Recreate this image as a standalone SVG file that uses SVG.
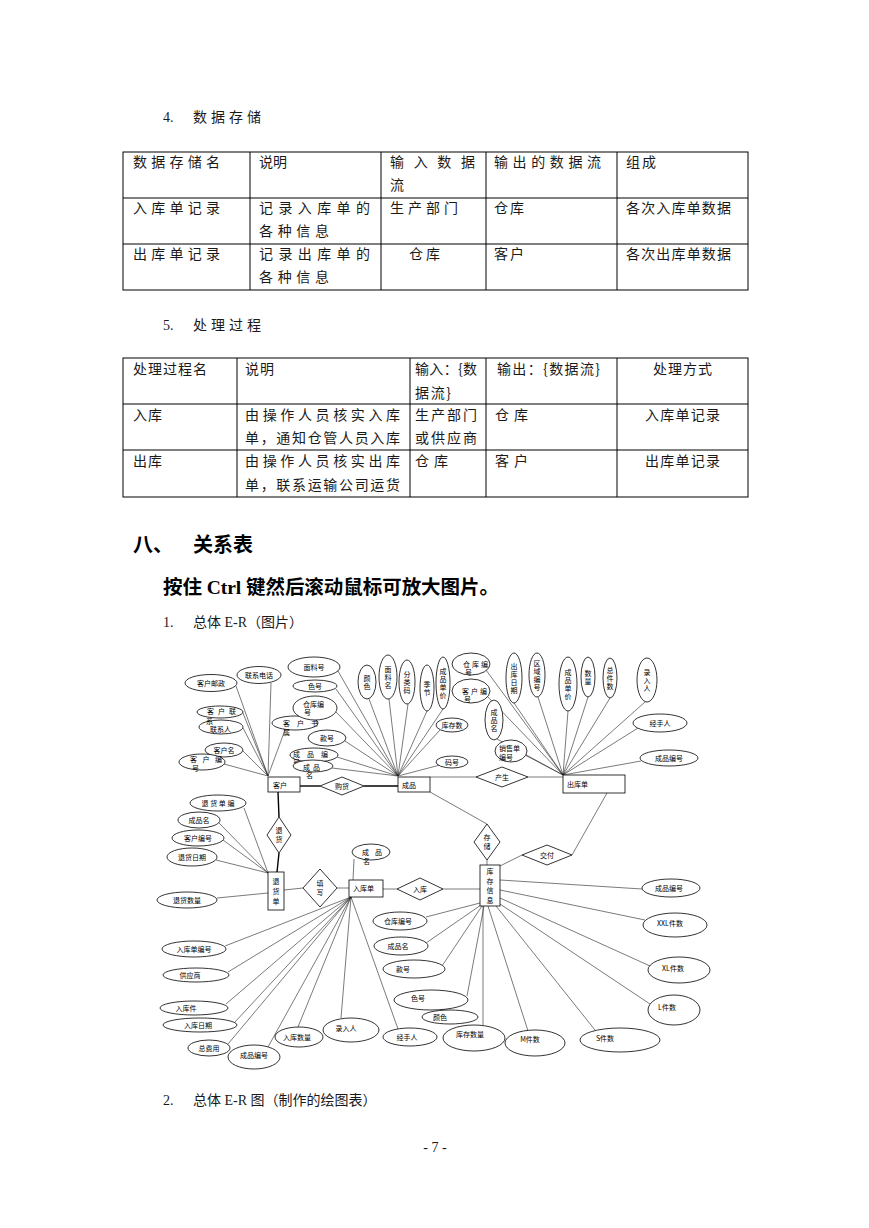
<svg xmlns="http://www.w3.org/2000/svg" width="869" height="1228" viewBox="0 0 869 1228">
<style>
.t{font-family:"Noto Sans CJK SC","Noto Sans",sans-serif;font-size:14px;fill:#1a1a1a}
.l{font-family:"Liberation Serif","Noto Sans CJK SC",serif;font-size:14px;fill:#1a1a1a}
.h{font-family:"Noto Sans CJK SC",sans-serif;font-weight:bold;fill:#000}
.grid{fill:none;stroke:#000;stroke-width:1}
.er text{font-family:"Noto Sans CJK SC",sans-serif;font-size:7px;fill:#000}
.er .c{text-anchor:middle}
.er ellipse,.er rect,.er polygon{fill:#fff;stroke:#000;stroke-width:0.8}
.conn line{stroke:#222;stroke-width:0.6}
.conn line.b{stroke:#000;stroke-width:1.4}
</style>
<rect width="869" height="1228" fill="#fff"/>

<g id="sec4">
<text class="l" x="163" y="122">4.</text>
<text class="t" x="193" y="122" textLength="68">数据存储</text>
</g>
<g id="table1">
<rect class="grid" x="123" y="152" width="625" height="138"/>
<path class="grid" d="M123 198H748M123 244H748M250 152V290M381 152V290M486 152V290M617 152V290"/>
<text class="t" x="133" y="167" textLength="87">数据存储名</text>
<text class="t" x="259" y="167" textLength="28">说明</text>
<text class="t" x="390" y="167" textLength="85">输入数据</text>
<text class="t" x="390" y="190">流</text>
<text class="t" x="494" y="167" textLength="107">输出的数据流</text>
<text class="t" x="626" y="167" textLength="30">组成</text>
<text class="t" x="133" y="213" textLength="87">入库单记录</text>
<text class="t" x="259" y="213" textLength="111">记录入库单的</text>
<text class="t" x="259" y="236" textLength="70">各种信息</text>
<text class="t" x="390" y="213" textLength="68">生产部门</text>
<text class="t" x="494" y="213" textLength="30">仓库</text>
<text class="t" x="626" y="213" textLength="105">各次入库单数据</text>
<text class="t" x="133" y="259" textLength="87">出库单记录</text>
<text class="t" x="259" y="259" textLength="111">记录出库单的</text>
<text class="t" x="259" y="282" textLength="70">各种信息</text>
<text class="t" x="409" y="259" textLength="31">仓库</text>
<text class="t" x="494" y="259" textLength="30">客户</text>
<text class="t" x="626" y="259" textLength="105">各次出库单数据</text>
</g>

<g id="sec5">
<text class="l" x="163" y="330">5.</text>
<text class="t" x="193" y="330" textLength="68">处理过程</text>
</g>
<g id="table2">
<rect class="grid" x="123" y="358" width="625" height="139"/>
<path class="grid" d="M123 404H748M123 450H748M237 358V497M410 358V497M486 358V497M617 358V497"/>
<text class="t" x="133" y="374" textLength="74">处理过程名</text>
<text class="t" x="245" y="374" textLength="29">说明</text>
<text class="t" x="415" y="374" textLength="62">输入：{数</text>
<text class="t" x="415" y="398" textLength="36">据流}</text>
<text class="t" x="497" y="374" textLength="103">输出：{数据流}</text>
<text class="t" x="653" y="374" textLength="59">处理方式</text>
<text class="t" x="133" y="420" textLength="29">入库</text>
<text class="t" x="245" y="420" textLength="155">由操作人员核实入库</text>
<text class="t" x="245" y="443" textLength="155">单，通知仓管人员入库</text>
<text class="t" x="415" y="420" textLength="62">生产部门</text>
<text class="t" x="415" y="443" textLength="62">或供应商</text>
<text class="t" x="495" y="420" textLength="33">仓库</text>
<text class="t" x="645" y="420" textLength="75">入库单记录</text>
<text class="t" x="133" y="466" textLength="29">出库</text>
<text class="t" x="245" y="466" textLength="155">由操作人员核实出库</text>
<text class="t" x="245" y="490" textLength="155">单，联系运输公司运货</text>
<text class="t" x="415" y="466" textLength="33">仓库</text>
<text class="t" x="495" y="466" textLength="33">客户</text>
<text class="t" x="645" y="466" textLength="75">出库单记录</text>
</g>

<g id="heading8">
<text class="h" x="133" y="552" font-size="20">八、</text>
<text class="h" x="193" y="552" font-size="20" textLength="60">关系表</text>
</g>
<g id="hint">
<text class="h" x="163" y="594" font-size="19.5" textLength="336">按住<tspan font-family="Liberation Serif" font-weight="bold"> Ctrl </tspan>键然后滚动鼠标可放大图片。</text>
</g>
<g id="cap1">
<text class="l" x="163" y="627">1.</text>
<text class="t" x="193" y="627">总体<tspan font-family="Liberation Serif"> E-R</tspan>（图片）</text>
</g>

<g class="er" id="er">
<g class="conn" id="connectors">
<line x1="268" y1="776" x2="236" y2="686"/>
<line x1="268" y1="776" x2="271" y2="683"/>
<line x1="268" y1="776" x2="243" y2="713"/>
<line x1="268" y1="776" x2="243" y2="728"/>
<line x1="268" y1="776" x2="285" y2="730"/>
<line x1="268" y1="776" x2="243" y2="751"/>
<line x1="268" y1="776" x2="224" y2="764"/>
<line x1="398" y1="776" x2="338" y2="671"/>
<line x1="398" y1="776" x2="336" y2="689"/>
<line x1="398" y1="776" x2="336" y2="712"/>
<line x1="398" y1="776" x2="345" y2="741"/>
<line x1="398" y1="776" x2="337" y2="757"/>
<line x1="398" y1="776" x2="332" y2="768"/>
<line x1="398" y1="776" x2="369" y2="699"/>
<line x1="398" y1="776" x2="389" y2="699"/>
<line x1="398" y1="776" x2="408" y2="704"/>
<line x1="398" y1="776" x2="427" y2="711"/>
<line x1="398" y1="776" x2="443" y2="709"/>
<line x1="398" y1="776" x2="440" y2="730"/>
<line x1="398" y1="776" x2="440" y2="765"/>
<line x1="563" y1="775" x2="486" y2="670"/>
<line x1="563" y1="775" x2="488" y2="697"/>
<line x1="563" y1="775" x2="514" y2="703"/>
<line x1="563" y1="775" x2="497" y2="739"/>
<line x1="563" y1="775" x2="525" y2="755"/>
<line x1="563" y1="775" x2="538" y2="697"/>
<line x1="563" y1="775" x2="568" y2="711"/>
<line x1="563" y1="775" x2="588" y2="697"/>
<line x1="563" y1="775" x2="610" y2="698"/>
<line x1="563" y1="775" x2="645" y2="702"/>
<line x1="563" y1="775" x2="638" y2="728"/>
<line x1="563" y1="775" x2="641" y2="761"/>
<line class="b" x1="300" y1="786" x2="320" y2="786"/>
<line class="b" x1="364" y1="786" x2="398" y2="786"/>
<line x1="430" y1="777" x2="476" y2="777"/>
<line x1="528" y1="777" x2="563" y2="777"/>
<line class="b" x1="278" y1="792" x2="279" y2="817"/>
<line class="b" x1="279" y1="853" x2="277" y2="872"/>
<line x1="284" y1="890" x2="303" y2="888"/>
<line x1="337" y1="888" x2="349" y2="888"/>
<line x1="383" y1="889" x2="397" y2="889"/>
<line x1="443" y1="889" x2="480" y2="889"/>
<line x1="430" y1="792" x2="487" y2="824"/>
<line x1="487" y1="860" x2="487" y2="865"/>
<line x1="607" y1="793" x2="572" y2="855"/>
<line x1="522" y1="855" x2="500" y2="866"/>
<line x1="268" y1="873" x2="244" y2="808"/>
<line x1="268" y1="873" x2="219" y2="823"/>
<line x1="268" y1="873" x2="223" y2="840"/>
<line x1="268" y1="873" x2="216" y2="860"/>
<line x1="268" y1="893" x2="217" y2="898"/>
<line x1="353" y1="880" x2="354" y2="859"/>
<line x1="351" y1="897" x2="225" y2="946"/>
<line x1="351" y1="897" x2="228" y2="972"/>
<line x1="351" y1="897" x2="226" y2="1004"/>
<line x1="351" y1="897" x2="235" y2="1022"/>
<line x1="351" y1="897" x2="228" y2="1044"/>
<line x1="351" y1="897" x2="268" y2="1047"/>
<line x1="351" y1="897" x2="298" y2="1027"/>
<line x1="351" y1="897" x2="341" y2="1018"/>
<line x1="351" y1="897" x2="398" y2="1029"/>
<line x1="480" y1="903" x2="426" y2="917"/>
<line x1="481" y1="905" x2="426" y2="943"/>
<line x1="482" y1="906" x2="442" y2="966"/>
<line x1="484" y1="906" x2="467" y2="996"/>
<line x1="483" y1="906" x2="483" y2="1025"/>
<line x1="488" y1="906" x2="528" y2="1031"/>
<line x1="496" y1="906" x2="595" y2="1030"/>
<line x1="500" y1="904" x2="650" y2="1004"/>
<line x1="500" y1="898" x2="650" y2="966"/>
<line x1="500" y1="890" x2="645" y2="920"/>
<line x1="500" y1="880" x2="642" y2="889"/>
</g>

<g id="e-kehu"><rect x="268" y="777" width="32" height="15"/><text x="273" y="788">客户</text></g>
<g id="e-chengpin"><rect x="398" y="777" width="32" height="15"/><text x="402" y="788">成品</text></g>
<g id="e-chukudan"><rect x="563" y="775" width="62" height="18"/><text x="567" y="787">出库单</text></g>
<g id="e-tuihuodan"><rect x="268" y="872" width="16" height="38"/><text class="c"><tspan x="276" y="883.5">退</tspan><tspan x="276" y="893.5">货</tspan><tspan x="276" y="903.5">单</tspan></text></g>
<g id="e-rukudan"><rect x="349" y="880" width="34" height="17"/><text x="353" y="891">入库单</text></g>
<g id="e-kucun"><rect x="480" y="865" width="20" height="41"/><text class="c"><tspan x="490" y="874">库</tspan><tspan x="490" y="883.5">存</tspan><tspan x="490" y="893">信</tspan><tspan x="490" y="902.5">息</tspan></text></g>

<g id="r-gouhuo"><polygon points="320,786 342,777 364,786 342,795"/><text class="c" x="342" y="788.5">购货</text></g>
<g id="r-chansheng"><polygon points="476,777 502,767 528,777 502,787"/><text class="c" x="502" y="779.5">产生</text></g>
<g id="r-tuihuo"><polygon points="267,835 279,817 291,835 279,853"/><text class="c"><tspan x="279" y="833">退</tspan><tspan x="279" y="842">货</tspan></text></g>
<g id="r-tianxie"><polygon points="303,888 320,869 337,888 320,907"/><text class="c"><tspan x="320" y="886">填</tspan><tspan x="320" y="895">写</tspan></text></g>
<g id="r-ruku"><polygon points="397,889 420,878 443,889 420,900"/><text class="c" x="420" y="891.5">入库</text></g>
<g id="r-cunchu"><polygon points="474,842 487,824 500,842 487,860"/><text class="c"><tspan x="487" y="840">存</tspan><tspan x="487" y="849">储</tspan></text></g>
<g id="r-jiaofu"><polygon points="522,855 547,845 572,855 547,865"/><text class="c" x="547" y="857.5">交付</text></g>

<g id="a1"><ellipse cx="211" cy="683" rx="26" ry="8.5"/><text class="c" x="211" y="685.5">客户邮政</text></g>
<g id="a2"><ellipse cx="259" cy="675" rx="22" ry="8.5"/><text class="c" x="259" y="677.5">联系电话</text></g>
<g id="a4"><ellipse cx="221" cy="727" rx="22" ry="7"/><text x="210" y="731.5">联系人</text></g>
<g id="a3"><ellipse cx="220" cy="712" rx="23" ry="6"/><text x="207" y="714" textLength="29">客户联</text><text x="206" y="723.5">系</text></g>
<g id="a5"><ellipse cx="295" cy="723" rx="23" ry="7"/><text x="283" y="725.5" textLength="35">客户书</text><text x="283" y="735">属</text></g>
<g id="a6"><ellipse cx="224" cy="750" rx="19" ry="7"/><text class="c" x="224" y="752.5">客户名</text></g>
<g id="a7"><ellipse cx="202" cy="762" rx="23" ry="8"/><text x="190" y="762" textLength="32">客户编</text><text x="192" y="771">号</text></g>

<g id="a8"><ellipse cx="314" cy="667" rx="26" ry="10"/><text class="c" x="314" y="669.5">面料号</text></g>
<g id="a9"><ellipse cx="315" cy="686" rx="22" ry="6"/><text class="c" x="315" y="688.5">色号</text></g>
<g id="a10"><ellipse cx="315" cy="708" rx="22" ry="12"/><text x="303" y="706.5">仓库编</text><text x="304" y="715">号</text></g>
<g id="a11"><ellipse cx="327" cy="738" rx="19" ry="8"/><text class="c" x="327" y="740.5">款号</text></g>
<g id="a12"><ellipse cx="314" cy="755" rx="24" ry="7"/><text x="293" y="756.5" textLength="35">成品编</text><text x="293" y="765">号</text></g>
<g id="a13"><ellipse cx="313" cy="766" rx="20" ry="6"/><text x="303" y="770" textLength="17">成品</text><text x="306" y="778">名</text></g>
<g id="a14"><ellipse cx="367" cy="682" rx="9" ry="17"/><text class="c"><tspan x="367" y="680.5">颜</tspan><tspan x="367" y="688.5">色</tspan></text></g>
<g id="a15"><ellipse cx="388" cy="677" rx="9" ry="22"/><text class="c"><tspan x="388" y="671.5">面</tspan><tspan x="388" y="679.5">料</tspan><tspan x="388" y="687.5">名</tspan></text></g>
<g id="a16"><ellipse cx="407" cy="682" rx="8" ry="22"/><text class="c"><tspan x="407" y="676.5">分</tspan><tspan x="407" y="684.5">类</tspan><tspan x="407" y="692.5">码</tspan></text></g>
<g id="a17"><ellipse cx="427" cy="688" rx="7" ry="23"/><text class="c"><tspan x="427" y="686.5">季</tspan><tspan x="427" y="694.5">节</tspan></text></g>
<g id="a18"><ellipse cx="443" cy="683" rx="7" ry="26"/><text class="c"><tspan x="443" y="673.5">成</tspan><tspan x="443" y="681.5">品</tspan><tspan x="443" y="689.5">单</tspan><tspan x="443" y="697.5">价</tspan></text></g>
<g id="a19"><ellipse cx="452" cy="725" rx="16" ry="7"/><text class="c" x="452" y="727.5">库存数</text></g>
<g id="a20"><ellipse cx="452" cy="762" rx="16" ry="6"/><text class="c" x="452" y="764.5">码号</text></g>

<g id="a21"><ellipse cx="471" cy="664" rx="19" ry="11"/><text x="463" y="667" textLength="25">仓库编</text><text x="465" y="675">号</text></g>
<g id="a22"><ellipse cx="471" cy="691" rx="19" ry="12"/><text x="462" y="694" textLength="25">客户编</text><text x="464" y="702">号</text></g>
<g id="a23"><ellipse cx="514" cy="678" rx="8" ry="25"/><text class="c"><tspan x="514" y="668.5">出</tspan><tspan x="514" y="676.5">库</tspan><tspan x="514" y="684.5">日</tspan><tspan x="514" y="692.5">期</tspan></text></g>
<g id="a24"><ellipse cx="494" cy="720" rx="9" ry="20"/><text class="c"><tspan x="494" y="714.5">成</tspan><tspan x="494" y="722.5">品</tspan><tspan x="494" y="730.5">名</tspan></text></g>
<g id="a25"><ellipse cx="511" cy="751" rx="16" ry="11"/><text x="499" y="751">销售单</text><text x="499" y="760">编号</text></g>
<g id="a26"><ellipse cx="537" cy="675" rx="8" ry="22"/><text class="c"><tspan x="537" y="665.5">区</tspan><tspan x="537" y="673.5">域</tspan><tspan x="537" y="681.5">编</tspan><tspan x="537" y="689.5">号</tspan></text></g>
<g id="a27"><ellipse cx="568" cy="684" rx="9" ry="27"/><text class="c"><tspan x="568" y="674.5">成</tspan><tspan x="568" y="682.5">品</tspan><tspan x="568" y="690.5">单</tspan><tspan x="568" y="698.5">价</tspan></text></g>
<g id="a28"><ellipse cx="588" cy="677" rx="7" ry="20"/><text class="c"><tspan x="588" y="675.5">数</tspan><tspan x="588" y="683.5">量</tspan></text></g>
<g id="a29"><ellipse cx="610" cy="678" rx="7" ry="20"/><text class="c"><tspan x="610" y="672.5">总</tspan><tspan x="610" y="680.5">件</tspan><tspan x="610" y="688.5">数</tspan></text></g>
<g id="a30"><ellipse cx="647" cy="680" rx="10" ry="22"/><text class="c"><tspan x="647" y="674.5">录</tspan><tspan x="647" y="682.5">入</tspan><tspan x="647" y="690.5">人</tspan></text></g>
<g id="a31"><ellipse cx="660" cy="723" rx="27" ry="9"/><text class="c" x="660" y="725.5">经手人</text></g>
<g id="a32"><ellipse cx="669" cy="758" rx="29" ry="8"/><text class="c" x="669" y="760.5">成品编号</text></g>

<g id="a33"><ellipse cx="218" cy="803" rx="28" ry="8"/><text class="c" x="218" y="805.5" textLength="33">退货单编</text></g>
<g id="a34"><ellipse cx="199" cy="820" rx="21" ry="8"/><text class="c" x="199" y="822.5">成品名</text></g>
<g id="a35"><ellipse cx="198" cy="838" rx="26" ry="8"/><text class="c" x="198" y="840.5">客户编号</text></g>
<g id="a36"><ellipse cx="192" cy="857" rx="25" ry="9"/><text class="c" x="192" y="859.5">退货日期</text></g>
<g id="a37"><ellipse cx="187" cy="900" rx="30" ry="8"/><text class="c" x="187" y="902.5">退货数量</text></g>

<g id="a38"><ellipse cx="371" cy="852" rx="19" ry="8"/><text x="362" y="855" textLength="20">成品</text><text x="363" y="864">名</text></g>
<g id="a39"><ellipse cx="194" cy="949" rx="32" ry="8"/><text class="c" x="194" y="951.5">入库单编号</text></g>
<g id="a40"><ellipse cx="196" cy="975" rx="33" ry="7"/><text class="c" x="190" y="977.5">供应商</text></g>
<g id="a41"><ellipse cx="194" cy="1008" rx="34" ry="7"/><text class="c" x="186" y="1010.5">入库件</text></g>
<g id="a42"><ellipse cx="200" cy="1025" rx="37" ry="7"/><text class="c" x="198" y="1027.5">入库日期</text></g>
<g id="a43"><ellipse cx="209" cy="1048" rx="21" ry="8"/><text class="c" x="209" y="1050.5">总费用</text></g>
<g id="a44"><ellipse cx="254" cy="1057" rx="26" ry="12"/><text class="c" x="254" y="1057.5">成品编号</text></g>
<g id="a45"><ellipse cx="299" cy="1037" rx="24" ry="10"/><text class="c" x="297" y="1039.5">入库数量</text></g>
<g id="a46"><ellipse cx="351" cy="1030" rx="28" ry="12"/><text class="c" x="346" y="1030.5">录入人</text></g>
<g id="a47"><ellipse cx="410" cy="1037" rx="27" ry="9"/><text class="c" x="407" y="1039.5">经手人</text></g>

<g id="a48"><ellipse cx="400" cy="921" rx="27" ry="9"/><text class="c" x="398" y="923.5">仓库编号</text></g>
<g id="a49"><ellipse cx="401" cy="946" rx="27" ry="9"/><text class="c" x="398" y="948.5">成品名</text></g>
<g id="a50"><ellipse cx="414" cy="969" rx="31" ry="9"/><text class="c" x="403" y="971.5">款号</text></g>
<g id="a51"><ellipse cx="431" cy="1000" rx="37" ry="10"/><text class="c" x="418" y="1000.5">色号</text></g>
<g id="a52"><ellipse cx="450" cy="1017" rx="28" ry="7"/><text class="c" x="440" y="1019.5">颜色</text></g>
<g id="a53"><ellipse cx="474" cy="1038" rx="31" ry="13"/><text class="c" x="470" y="1036.5">库存数量</text></g>
<g id="a54"><ellipse cx="535" cy="1043" rx="30" ry="13"/><text class="c" x="530" y="1041.5">M件数</text></g>
<g id="a55"><ellipse cx="620" cy="1040" rx="40" ry="12"/><text class="c" x="605" y="1040.5">S件数</text></g>
<g id="a56"><ellipse cx="674" cy="1010" rx="26" ry="15"/><text class="c" x="667" y="1009.5">L件数</text></g>
<g id="a57"><ellipse cx="679" cy="970" rx="31" ry="13"/><text class="c" x="673" y="970.5">XL件数</text></g>
<g id="a58"><ellipse cx="675" cy="925" rx="32" ry="12"/><text class="c" x="670" y="925.5">XXL件数</text></g>
<g id="a59"><ellipse cx="671" cy="888" rx="29" ry="9"/><text class="c" x="669" y="890.5">成品编号</text></g>
</g>

<g id="cap2">
<text class="l" x="163" y="1105">2.</text>
<text class="t" x="193" y="1105">总体<tspan font-family="Liberation Serif"> E-R </tspan>图（制作的绘图表）</text>
</g>
<g id="footer">
<text class="l" x="435" y="1152" font-size="11" text-anchor="middle">- 7 -</text>
</g>
</svg>
